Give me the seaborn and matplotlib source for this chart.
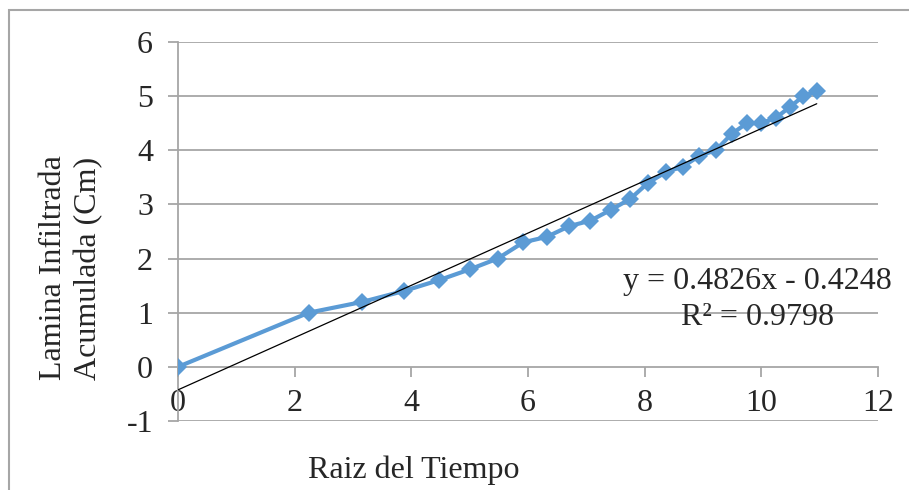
import matplotlib
matplotlib.use("Agg")
import matplotlib.pyplot as plt
from matplotlib.patches import Rectangle
import numpy as np
import pandas as pd
import seaborn as sns

# Square root of elapsed time and accumulated infiltrated depth (cm)
raiz_tiempo = [0.0, 2.24, 3.16, 3.87, 4.47, 5.00, 5.48, 5.92, 6.32, 6.71,
               7.07, 7.42, 7.75, 8.06, 8.37, 8.66, 8.94, 9.22, 9.49, 9.75,
               10.00, 10.25, 10.49, 10.72, 10.95]
lamina = [0.0, 1.0, 1.2, 1.4, 1.6, 1.8, 2.0, 2.3, 2.4, 2.6,
          2.7, 2.9, 3.1, 3.4, 3.6, 3.7, 3.9, 4.0, 4.3, 4.5,
          4.5, 4.6, 4.8, 5.0, 5.1]

# Linear trend line coefficients
pendiente = 0.4826
intercepto = -0.4248
r2 = 0.9798

x_ticks = [0, 2, 4, 6, 8, 10, 12]
y_ticks = [-1, 0, 1, 2, 3, 4, 5, 6]

sns.set_theme(style="white")
plt.rcParams["font.family"] = ["Liberation Serif", "DejaVu Serif"]

GRID = "#a6a6a6"
BLUE = "#5B9BD5"
FS = 23

fig = plt.figure(figsize=(9.09, 4.90), dpi=100)
ax = fig.add_axes([178 / 909, 1 - 421 / 490, 700 / 909, 379 / 490])

df = pd.DataFrame({"x": raiz_tiempo, "y": lamina})
x_fit = np.array([raiz_tiempo[0], raiz_tiempo[-1]])
trend = pd.DataFrame({"x": x_fit, "y": pendiente * x_fit + intercepto})

for yv in y_ticks:
    if yv != 0:
        ax.axhline(yv, color=GRID, lw=1.3, zorder=0)

sns.lineplot(data=df, x="x", y="y", ax=ax, color=BLUE, lw=3.0, marker="D",
             markersize=9, markeredgewidth=0, markerfacecolor=BLUE,
             sort=False, zorder=3)
sns.lineplot(data=trend, x="x", y="y", ax=ax, color="black", lw=0.9, zorder=4)

ax.set_xlim(0, 12)
ax.set_ylim(-1, 6)
ax.set_xticks(x_ticks)
ax.set_yticks(y_ticks)
ax.set_xticklabels([str(t) for t in x_ticks])
ax.set_yticklabels([str(t) for t in y_ticks])

for s in ["top", "right"]:
    ax.spines[s].set_visible(False)
ax.spines["bottom"].set_position(("data", 0))
ax.spines["bottom"].set_color(GRID)
ax.spines["bottom"].set_linewidth(1.3)
ax.spines["left"].set_color(GRID)
ax.spines["left"].set_linewidth(1.3)

ax.tick_params(axis="x", direction="out", length=7, width=1.3, color=GRID,
               labelsize=FS, pad=9, bottom=True)
ax.tick_params(axis="y", direction="out", length=7, width=1.3, color=GRID,
               labelsize=FS, pad=11, left=True)

ax.set_xlabel("")
ax.set_ylabel("")
fig.text(414 / 909, 1 - 470 / 490, "Raiz del Tiempo", ha="center", va="center",
         fontsize=FS)
fig.text(71 / 909, 1 - 268 / 490, "Lamina Infiltrada\nAcumulada (Cm)",
         ha="center", va="center", rotation=90, fontsize=FS, linespacing=1.3)

ax.text(9.93, 1.24, f"y = {pendiente}x - {abs(intercepto)}\nR² = {r2}",
        ha="center", va="center", fontsize=FS, linespacing=1.3, zorder=5)

# Outer chart border
fig.patches.append(Rectangle((9 / 909, -0.5), 1.5, 1 - 10 / 490 + 0.5,
                             transform=fig.transFigure, fill=False,
                             edgecolor=GRID, lw=1.5))

fig.savefig("out.png", dpi=100)
